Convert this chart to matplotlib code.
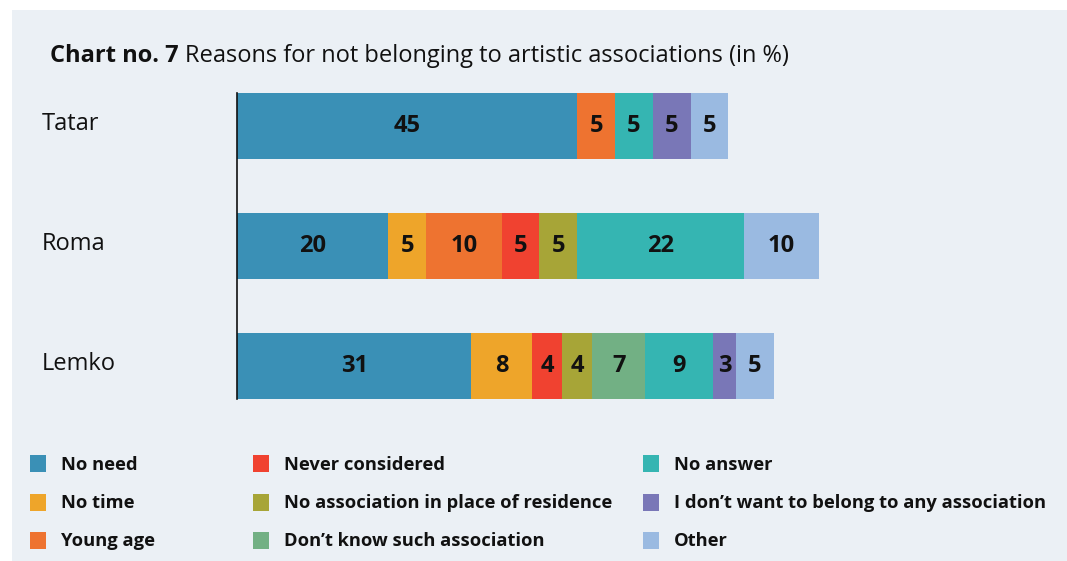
import matplotlib
matplotlib.use("Agg")
import matplotlib.pyplot as plt
from matplotlib.patches import Rectangle
from matplotlib.transforms import blended_transform_factory, offset_copy

plt.rcParams['font.family'] = ['Open Sans', 'DejaVu Sans']

# Data
groups = ["Tatar", "Roma", "Lemko"]
reasons = [
    "No need",
    "No time",
    "Young age",
    "Never considered",
    "No association in place of residence",
    "Don\u2019t know such association",
    "No answer",
    "I don\u2019t want to belong to any association",
    "Other",
]
no_need = [45, 20, 31]
no_time = [0, 5, 8]
young_age = [5, 10, 0]
never_considered = [0, 5, 4]
no_association = [0, 5, 4]
dont_know = [0, 0, 7]
no_answer = [5, 22, 9]
dont_want = [5, 0, 3]
other = [5, 10, 5]

series = [no_need, no_time, young_age, never_considered, no_association,
          dont_know, no_answer, dont_want, other]
colors = ["#3a90b6", "#eea52a", "#ee7330", "#f04230", "#a7a537",
          "#72b084", "#35b5b2", "#7977b7", "#9abae1"]

W, H = 1067, 561
BG = "#ebf0f5"

fig = plt.figure(figsize=(W / 100, H / 100), dpi=100)
fig.patch.set_facecolor("white")

# light panel behind everything
fig.add_artist(Rectangle((12 / W, 0), (W - 12) / W, (H - 10) / H,
                         transform=fig.transFigure, facecolor=BG,
                         edgecolor="none", zorder=0))

# axes: x=0 at pixel 237, ~7.56 px per percent
ax_left, ax_w = 237, 800
ax_top, ax_bot = 66, 426
ax = fig.add_axes([ax_left / W, 1 - ax_bot / H, ax_w / W, (ax_bot - ax_top) / H])
ax.set_facecolor("none")
ax.set_xlim(0, ax_w / 7.56)
ax.set_ylim(2.5, -0.5)

ypos = list(range(len(groups)))
bar_h = 0.55
left = [0] * len(groups)
for vals, col in zip(series, colors):
    ax.barh(ypos, vals, left=left, height=bar_h, color=col, edgecolor="none", zorder=2)
    for y, v, l in zip(ypos, vals, left):
        if v > 0:
            ax.text(l + v / 2, y, str(v), ha="center", va="center",
                    fontsize=17, fontweight="bold", color="#111111", zorder=3)
    left = [a + b for a, b in zip(left, vals)]

for s in ["top", "right", "bottom"]:
    ax.spines[s].set_visible(False)
ax.spines["left"].set_bounds(-bar_h / 2, len(groups) - 1 + bar_h / 2)
ax.spines["left"].set_linewidth(1.2)
ax.spines["left"].set_color("#111111")
ax.set_xticks([])
ax.set_yticks([])

# group labels at the left of the panel
tr = blended_transform_factory(fig.transFigure, ax.transData)
tr = offset_copy(tr, fig=fig, x=0, y=1.5, units="points")
for y, g in zip(ypos, groups):
    ax.text(42 / W, y, g, transform=tr, ha="left", va="center",
            fontsize=17, color="#111111")

# title: bold prefix followed by regular text
fig.canvas.draw()
r = fig.canvas.get_renderer()
t1 = fig.text(50 / W, 1 - 62 / H, "Chart no. 7", fontsize=17,
              fontweight="bold", color="#111111", va="baseline", ha="left")
bb = t1.get_window_extent(renderer=r)
fig.text(bb.x1 / W + 6 / W, 1 - 62 / H,
         "Reasons for not belonging to artistic associations (in %)",
         fontsize=17, color="#111111", va="baseline", ha="left")

# legend, three columns filled top to bottom
col_x = [30, 253, 643]
row_y = [463, 502, 540]
sq_w, sq_h = 16, 17
for i, (name, col) in enumerate(zip(reasons, colors)):
    cx = col_x[i // 3]
    cy = row_y[i % 3]
    fig.add_artist(Rectangle((cx / W, 1 - (cy + sq_h / 2) / H), sq_w / W, sq_h / H,
                             transform=fig.transFigure, facecolor=col,
                             edgecolor="none", zorder=2))
    fig.text((cx + 31) / W, 1 - (cy + 1.5) / H, name, fontsize=13.2, fontweight="bold",
             color="#111111", ha="left", va="center")

fig.savefig("out.png", dpi=100, facecolor=fig.get_facecolor())
